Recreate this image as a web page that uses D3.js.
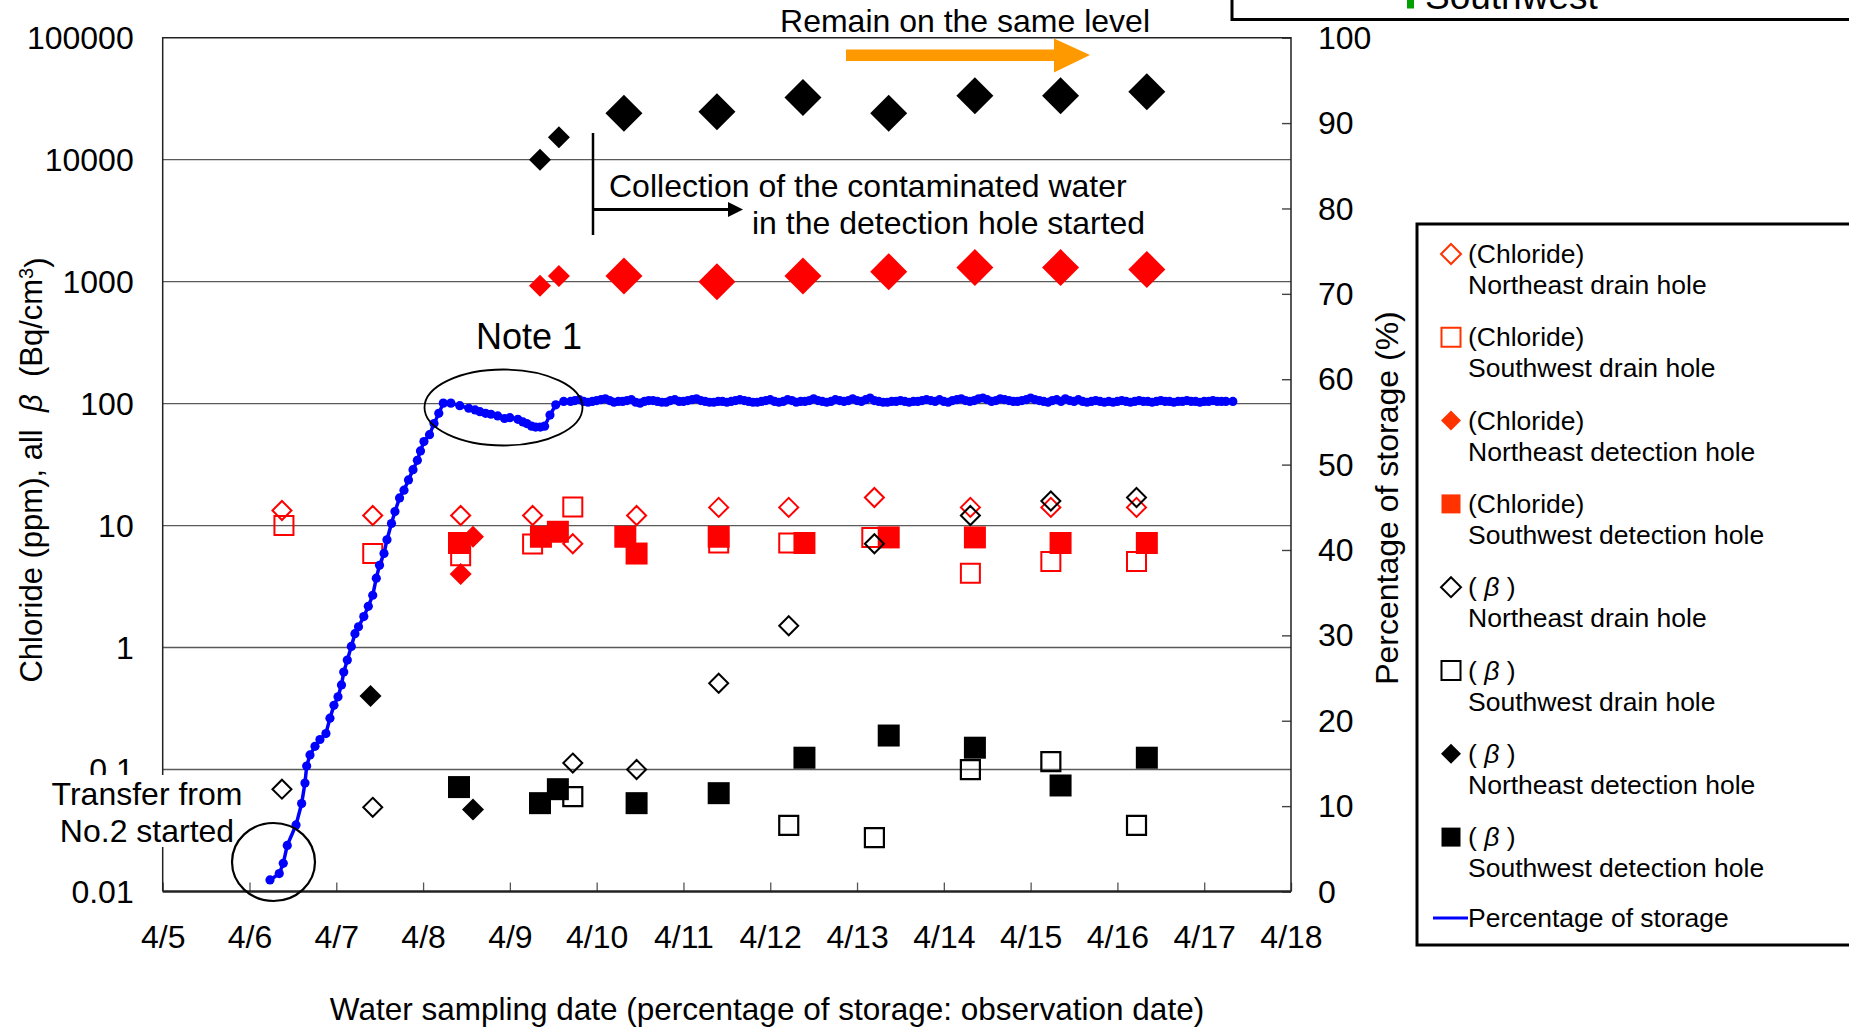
<!DOCTYPE html>
<html>
<head>
<meta charset="utf-8">
<script src="https://cdn.jsdelivr.net/npm/d3@7"></script>
<style>
  body { margin: 0; background: #fff; }
  svg text { font-family: "Liberation Sans", Arial, sans-serif; fill: #000; }
</style>
</head>
<body>
<div id="chart"></div>
<script>
// ---- tick labels ----
const dayTicks = [5, 6, 7, 8, 9, 10, 11, 12, 13, 14, 15, 16, 17, 18];
const leftTicks = [0.01, 0.1, 1, 10, 100, 1000, 10000, 100000];
const rightTicks = [0, 10, 20, 30, 40, 50, 60, 70, 80, 90, 100];

// ---- chloride (ppm), sampling day in April ----
const clNeDrainDays = [6.374, 7.42, 8.433, 9.262, 9.725, 10.46, 11.406, 12.213, 13.2, 14.306, 15.233, 16.22];
const clNeDrainValues = [13.3, 12.1, 12.1, 12.1, 7.1, 12.1, 14.1, 14.1, 17, 14.1, 14.1, 14.1];

const clSwDrainDays = [6.397, 7.42, 8.433, 9.262, 9.725, 11.406, 12.213, 13.17, 14.306, 15.233, 16.22];
const clSwDrainValues = [10.0, 5.9, 5.65, 7.08, 14.2, 7.2, 7.2, 8.0, 4.07, 5.07, 5.07];

const clNeDetDays = [8.433, 8.575, 9.347, 9.565];
const clNeDetValues = [4.0, 8.1, 927, 1114];
const clNeDetAfterDays = [10.314, 11.386, 12.377, 13.365, 14.358, 15.345, 16.339];
const clNeDetAfterValues = [1114, 1000, 1114, 1208, 1303, 1303, 1260];

const clSwDetDays = [8.414, 9.358, 9.553, 10.33, 10.46, 11.406, 12.394, 13.365, 14.358, 15.345, 16.339];
const clSwDetValues = [7.2, 8.1, 8.9, 8.1, 5.9, 8.1, 7.2, 8.0, 8.0, 7.2, 7.2];

// ---- all beta (Bq/cm3) ----
const betaNeDrainDays = [6.374, 7.42, 9.725, 10.46, 11.406, 12.213, 13.2, 14.306, 15.233, 16.22];
const betaNeDrainValues = [0.069, 0.049, 0.113, 0.1, 0.51, 1.51, 7.1, 12.1, 15.9, 17];

const betaSwDrainDays = [9.725, 12.213, 13.2, 14.306, 15.233, 16.22];
const betaSwDrainValues = [0.060, 0.0348, 0.0277, 0.1, 0.116, 0.0348];

const betaNeDetDays = [7.394, 8.575, 9.347, 9.565];
const betaNeDetValues = [0.40, 0.047, 10000, 15300];
const betaNeDetAfterDays = [10.314, 11.386, 12.377, 13.365, 14.358, 15.345, 16.339];
const betaNeDetAfterValues = [24000, 24700, 32400, 24000, 33500, 33500, 36000];

const betaSwDetDays = [8.414, 9.347, 9.553, 10.46, 11.406, 12.394, 13.365, 14.358, 15.345, 16.339];
const betaSwDetValues = [0.0718, 0.053, 0.069, 0.053, 0.064, 0.125, 0.19, 0.151, 0.074, 0.125];

// ---- percentage of storage (%), observation day in April ----
const storageRiseDays = [6.236, 6.343, 6.389, 6.435, 6.536, 6.601, 6.639, 6.659, 6.697, 6.755,
  6.812, 6.881, 6.927, 6.973, 7.02, 7.06, 7.086, 7.127, 7.173, 7.215,
  7.256, 7.317, 7.369, 7.42, 7.461, 7.498, 7.55, 7.584, 7.636, 7.676,
  7.729, 7.78, 7.832, 7.884, 7.934, 7.97, 8.01, 8.074, 8.126, 8.181,
  8.233, 8.32, 8.423, 8.526, 8.6, 8.655, 8.72, 8.782, 8.86, 8.938, 9.0,
  9.092, 9.15, 9.195, 9.25, 9.297, 9.35, 9.4, 9.462, 9.529, 9.62];
const storageRisePct = [1.35, 2.1, 3.3, 5.4, 7.8, 10.3, 12.7, 14.7, 16.0, 17.0,
  17.8, 18.5, 20.3, 21.8, 22.8, 24.2, 25.7, 27.1, 28.7, 30.2,
  31.0, 32.2, 33.4, 34.7, 36.7, 38.2, 39.6, 41.2, 43.1, 44.5,
  46.1, 47.0, 48.2, 49.4, 50.5, 51.6, 52.7, 53.5, 54.8, 56.0,
  57.2, 57.2, 56.9, 56.6, 56.4, 56.2, 56.0, 55.9, 55.7, 55.4, 55.5,
  55.3, 55.0, 54.8, 54.5, 54.4, 54.4, 54.5, 55.8, 57.0, 57.4];
const storagePlateauDays = [9.70, 9.75, 9.80, 9.85, 9.90, 9.95, 10.00, 10.05, 10.10, 10.15,
  10.20, 10.25, 10.30, 10.35, 10.40, 10.45, 10.50, 10.55, 10.60, 10.65,
  10.70, 10.75, 10.80, 10.85, 10.90, 10.95, 11.00, 11.05, 11.10, 11.15,
  11.20, 11.25, 11.30, 11.35, 11.40, 11.45, 11.50, 11.55, 11.60, 11.65,
  11.70, 11.75, 11.80, 11.85, 11.90, 11.95, 12.00, 12.05, 12.10, 12.15,
  12.20, 12.25, 12.30, 12.35, 12.40, 12.45, 12.50, 12.55, 12.60, 12.65,
  12.70, 12.75, 12.80, 12.85, 12.90, 12.95, 13.00, 13.05, 13.10, 13.15,
  13.20, 13.25, 13.30, 13.35, 13.40, 13.45, 13.50, 13.55, 13.60, 13.65,
  13.70, 13.75, 13.80, 13.85, 13.90, 13.95, 14.00, 14.05, 14.10, 14.15,
  14.20, 14.25, 14.30, 14.35, 14.40, 14.45, 14.50, 14.55, 14.60, 14.65,
  14.70, 14.75, 14.80, 14.85, 14.90, 14.95, 15.00, 15.05, 15.10, 15.15,
  15.20, 15.25, 15.30, 15.35, 15.40, 15.45, 15.50, 15.55, 15.60, 15.65,
  15.70, 15.75, 15.80, 15.85, 15.90, 15.95, 16.00, 16.05, 16.10, 16.15,
  16.20, 16.25, 16.30, 16.35, 16.40, 16.45, 16.50, 16.55, 16.60, 16.65,
  16.70, 16.75, 16.80, 16.85, 16.90, 16.95, 17.00, 17.05, 17.10, 17.15,
  17.20, 17.25, 17.33];
const storagePlateauPct = [57.4, 57.5, 57.6, 57.4, 57.3, 57.4, 57.5, 57.6, 57.7, 57.5,
  57.3, 57.4, 57.4, 57.5, 57.6, 57.3, 57.2, 57.4, 57.5, 57.5,
  57.4, 57.3, 57.3, 57.5, 57.6, 57.4, 57.4, 57.5, 57.6, 57.7,
  57.5, 57.4, 57.3, 57.3, 57.4, 57.4, 57.3, 57.4, 57.5, 57.6,
  57.5, 57.4, 57.3, 57.3, 57.4, 57.5, 57.6, 57.4, 57.3, 57.4,
  57.6, 57.5, 57.3, 57.4, 57.4, 57.5, 57.7, 57.5, 57.4, 57.3,
  57.4, 57.6, 57.5, 57.4, 57.5, 57.7, 57.5, 57.4, 57.6, 57.8,
  57.5, 57.4, 57.3, 57.3, 57.4, 57.4, 57.5, 57.4, 57.3, 57.4,
  57.4, 57.5, 57.6, 57.5, 57.4, 57.6, 57.4, 57.3, 57.5, 57.6,
  57.7, 57.5, 57.4, 57.5, 57.7, 57.8, 57.6, 57.4, 57.5, 57.7,
  57.6, 57.5, 57.4, 57.4, 57.5, 57.6, 57.8, 57.6, 57.5, 57.4,
  57.3, 57.5, 57.6, 57.4, 57.7, 57.5, 57.4, 57.6, 57.4, 57.3,
  57.4, 57.5, 57.4, 57.3, 57.4, 57.3, 57.4, 57.5, 57.4, 57.3,
  57.4, 57.5, 57.4, 57.4, 57.3, 57.4, 57.5, 57.4, 57.4, 57.3,
  57.4, 57.4, 57.5, 57.4, 57.4, 57.3, 57.4, 57.4, 57.5, 57.4,
  57.4, 57.4, 57.4];

const RED = "#ff0000";
const LEGEND_RED = "#ff3300";
const BLUE = "#0000ff";

const width = 1849, height = 1027;
const plot = { left: 162.7, right: 1291, top: 37.7, bottom: 891.5 };

const svg = d3.select("#chart").append("svg")
  .attr("width", width)
  .attr("height", height);

const x = d3.scaleLinear().domain([5, 18]).range([plot.left, plot.right]);
const yLeft = d3.scaleLog().domain([0.01, 100000]).range([plot.bottom, plot.top]);
const yRight = d3.scaleLinear().domain([0, 100]).range([plot.bottom, plot.top]);

function shapePath(shape, h) {
  if (shape === "diamond") return `M0,${-h}L${h},0L0,${h}L${-h},0Z`;
  return `M${-h},${-h}H${h}V${h}H${-h}Z`;
}

// gridlines
svg.append("g")
  .selectAll("line")
  .data(leftTicks.filter(d => d > 0.01 && d < 100000))
  .enter()
  .append("line")
  .attr("x1", plot.left).attr("x2", plot.right)
  .attr("y1", d => yLeft(d)).attr("y2", d => yLeft(d))
  .attr("stroke", "#5a5a5a")
  .attr("stroke-width", 1.4);

// left axis
const leftAxis = svg.append("g")
  .attr("transform", `translate(${plot.left},0)`)
  .call(d3.axisLeft(yLeft).tickValues(leftTicks).tickFormat(d => String(d)).tickSize(0).tickPadding(29));
leftAxis.select(".domain").remove();
leftAxis.selectAll("text").style("font-size", "32px").attr("dy", "0.34em");

// right axis
const rightAxis = svg.append("g")
  .attr("transform", `translate(${plot.right},0)`)
  .call(d3.axisRight(yRight).tickValues(rightTicks).tickSize(-9).tickSizeOuter(0).tickPadding(27));
rightAxis.select(".domain").remove();
rightAxis.selectAll("line").attr("stroke", "#444").attr("stroke-width", 1.4);
rightAxis.selectAll("text").style("font-size", "32px").attr("dy", "0.33em");

// bottom axis
const bottomAxis = svg.append("g")
  .attr("transform", `translate(0,${plot.bottom})`)
  .call(d3.axisBottom(x).tickValues(dayTicks).tickFormat(d => "4/" + d).tickSize(-9).tickSizeOuter(0).tickPadding(34));
bottomAxis.select(".domain").remove();
bottomAxis.selectAll("line").attr("stroke", "#555").attr("stroke-width", 1.3);
bottomAxis.selectAll("text").style("font-size", "32px");

// frame
svg.append("path")
  .attr("d", `M${plot.left},${plot.bottom}V${plot.top}H${plot.right}V${plot.bottom}`)
  .attr("fill", "none").attr("stroke", "#222").attr("stroke-width", 1.5);
svg.append("line")
  .attr("x1", plot.left).attr("x2", plot.right)
  .attr("y1", plot.bottom).attr("y2", plot.bottom)
  .attr("stroke", "#222").attr("stroke-width", 2.5);

// series
const series = [
  { days: clNeDrainDays, values: clNeDrainValues, shape: "diamond", size: 9.5, fill: "none", stroke: RED, sw: 2 },
  { days: clSwDrainDays, values: clSwDrainValues, shape: "square", size: 9.5, fill: "none", stroke: RED, sw: 2 },
  { days: clNeDetDays, values: clNeDetValues, shape: "diamond", size: 11, fill: RED, stroke: "none", sw: 0 },
  { days: clNeDetAfterDays, values: clNeDetAfterValues, shape: "diamond", size: 18.5, fill: RED, stroke: "none", sw: 0 },
  { days: clSwDetDays, values: clSwDetValues, shape: "square", size: 11, fill: RED, stroke: "none", sw: 0 },
  { days: betaNeDrainDays, values: betaNeDrainValues, shape: "diamond", size: 9.5, fill: "none", stroke: "#000", sw: 2 },
  { days: betaSwDrainDays, values: betaSwDrainValues, shape: "square", size: 9.5, fill: "none", stroke: "#000", sw: 2.2 },
  { days: betaNeDetDays, values: betaNeDetValues, shape: "diamond", size: 11, fill: "#000", stroke: "none", sw: 0 },
  { days: betaNeDetAfterDays, values: betaNeDetAfterValues, shape: "diamond", size: 18.5, fill: "#000", stroke: "none", sw: 0 },
  { days: betaSwDetDays, values: betaSwDetValues, shape: "square", size: 11, fill: "#000", stroke: "none", sw: 0 }
];

series.forEach(s => {
  svg.append("g")
    .selectAll("path")
    .data(d3.zip(s.days, s.values))
    .enter()
    .append("path")
    .attr("transform", d => `translate(${x(d[0])},${yLeft(d[1])})`)
    .attr("d", shapePath(s.shape, s.size))
    .attr("fill", s.fill)
    .attr("stroke", s.stroke)
    .attr("stroke-width", s.sw);
});

// percentage of storage
const storage = d3.zip(storageRiseDays.concat(storagePlateauDays), storageRisePct.concat(storagePlateauPct));
const storageLine = d3.line().x(d => x(d[0])).y(d => yRight(d[1]));
svg.append("path")
  .datum(storage)
  .attr("d", storageLine)
  .attr("fill", "none")
  .attr("stroke", BLUE)
  .attr("stroke-width", 3.5);
svg.append("g")
  .selectAll("circle")
  .data(storage)
  .enter()
  .append("circle")
  .attr("cx", d => x(d[0]))
  .attr("cy", d => yRight(d[1]))
  .attr("r", 4.6)
  .attr("fill", BLUE);

// annotations
svg.append("text")
  .attr("x", 965).attr("y", 32)
  .attr("text-anchor", "middle")
  .style("font-size", "32px")
  .text("Remain on the same level");
svg.append("path")
  .attr("d", "M846,49.5H1054V38.5L1090,55L1054,72.5V61H846Z")
  .attr("fill", "#ff9900");

svg.append("line")
  .attr("x1", 593).attr("x2", 593).attr("y1", 133).attr("y2", 235)
  .attr("stroke", "#000").attr("stroke-width", 2.5);
svg.append("line")
  .attr("x1", 593).attr("x2", 730).attr("y1", 209.5).attr("y2", 209.5)
  .attr("stroke", "#000").attr("stroke-width", 3);
svg.append("path")
  .attr("d", "M728,202L743,209.5L728,217Z")
  .attr("fill", "#000");
svg.append("text")
  .attr("x", 609).attr("y", 197)
  .style("font-size", "32px")
  .text("Collection of the contaminated water");
svg.append("text")
  .attr("x", 752).attr("y", 234)
  .style("font-size", "32px")
  .text("in the detection hole started");

svg.append("text")
  .attr("x", 529).attr("y", 349)
  .attr("text-anchor", "middle")
  .style("font-size", "36px")
  .text("Note 1");
svg.append("ellipse")
  .attr("cx", 503.5).attr("cy", 407.5).attr("rx", 79).attr("ry", 38)
  .attr("fill", "none").attr("stroke", "#000").attr("stroke-width", 1.8);

svg.append("rect")
  .attr("x", 45).attr("y", 775).attr("width", 203).attr("height", 72)
  .attr("fill", "#fff");
svg.append("text")
  .attr("x", 147).attr("y", 805)
  .attr("text-anchor", "middle")
  .style("font-size", "32px")
  .text("Transfer from");
svg.append("text")
  .attr("x", 147).attr("y", 842)
  .attr("text-anchor", "middle")
  .style("font-size", "32px")
  .text("No.2 started");
svg.append("ellipse")
  .attr("cx", 273.5).attr("cy", 862).attr("rx", 41.5).attr("ry", 39)
  .attr("fill", "none").attr("stroke", "#000").attr("stroke-width", 2.2);

// axis titles
const leftTitle = svg.append("text")
  .attr("transform", "translate(42,470) rotate(-90)")
  .attr("text-anchor", "middle")
  .style("font-size", "31px");
leftTitle.append("tspan").text("Chloride (ppm), all ");
leftTitle.append("tspan").style("font-style", "italic").text("\u00a0β\u00a0");
leftTitle.append("tspan").text(" (Bq/cm");
leftTitle.append("tspan").attr("dy", "-0.45em").style("font-size", "20px").text("3");
leftTitle.append("tspan").attr("dy", "0.45em").text(")");

svg.append("text")
  .attr("transform", "translate(1398,498) rotate(-90)")
  .attr("text-anchor", "middle")
  .style("font-size", "32px")
  .text("Percentage of storage (%)");

svg.append("text")
  .attr("x", 767).attr("y", 1020)
  .attr("text-anchor", "middle")
  .style("font-size", "31.5px")
  .text("Water sampling date (percentage of storage: observation date)");

// partially visible upper legend box
svg.append("rect")
  .attr("x", 1232).attr("y", -100).attr("width", 700).attr("height", 119.5)
  .attr("fill", "#fff").attr("stroke", "#000").attr("stroke-width", 3);
svg.append("rect")
  .attr("x", 1407).attr("y", -20).attr("width", 7).attr("height", 28.5)
  .attr("fill", "#00a000");
svg.append("text")
  .attr("x", 1425).attr("y", 9)
  .style("font-size", "37px")
  .text("Southwest");

// legend
const legendItems = [
  { head: "(Chloride)", name: "Northeast drain hole", shape: "diamond", fill: "none", stroke: LEGEND_RED },
  { head: "(Chloride)", name: "Southwest drain hole", shape: "square", fill: "none", stroke: LEGEND_RED },
  { head: "(Chloride)", name: "Northeast detection hole", shape: "diamond", fill: LEGEND_RED, stroke: "none" },
  { head: "(Chloride)", name: "Southwest detection hole", shape: "square", fill: LEGEND_RED, stroke: "none" },
  { head: "beta", name: "Northeast drain hole", shape: "diamond", fill: "none", stroke: "#000" },
  { head: "beta", name: "Southwest drain hole", shape: "square", fill: "none", stroke: "#000" },
  { head: "beta", name: "Northeast detection hole", shape: "diamond", fill: "#000", stroke: "none" },
  { head: "beta", name: "Southwest detection hole", shape: "square", fill: "#000", stroke: "none" }
];

const legend = svg.append("g");
legend.append("rect")
  .attr("x", 1417).attr("y", 224).attr("width", 600).attr("height", 721)
  .attr("fill", "#fff").attr("stroke", "#000").attr("stroke-width", 3);

const items = legend.selectAll(".item")
  .data(legendItems)
  .enter()
  .append("g")
  .attr("class", "item")
  .attr("transform", (d, i) => `translate(0,${263 + i * 83.3})`);
items.append("path")
  .attr("transform", "translate(1451,-9)")
  .attr("d", d => shapePath(d.shape, d.shape === "diamond" ? 10 : 9.5))
  .attr("fill", d => d.fill)
  .attr("stroke", d => d.stroke)
  .attr("stroke-width", 2);
items.each(function(d) {
  const t = d3.select(this).append("text")
    .attr("x", 1468).attr("y", 0)
    .style("font-size", "26.5px");
  if (d.head === "beta") {
    t.append("tspan").text("( ");
    t.append("tspan").style("font-style", "italic").text("β");
    t.append("tspan").text(" )");
  } else {
    t.text(d.head);
  }
});
items.append("text")
  .attr("x", 1468).attr("y", 31)
  .style("font-size", "26.5px")
  .text(d => d.name);

legend.append("line")
  .attr("x1", 1433).attr("x2", 1468).attr("y1", 918).attr("y2", 918)
  .attr("stroke", BLUE).attr("stroke-width", 3);
legend.append("text")
  .attr("x", 1468).attr("y", 927)
  .style("font-size", "26.5px")
  .text("Percentage of storage");
</script>
</body>
</html>
